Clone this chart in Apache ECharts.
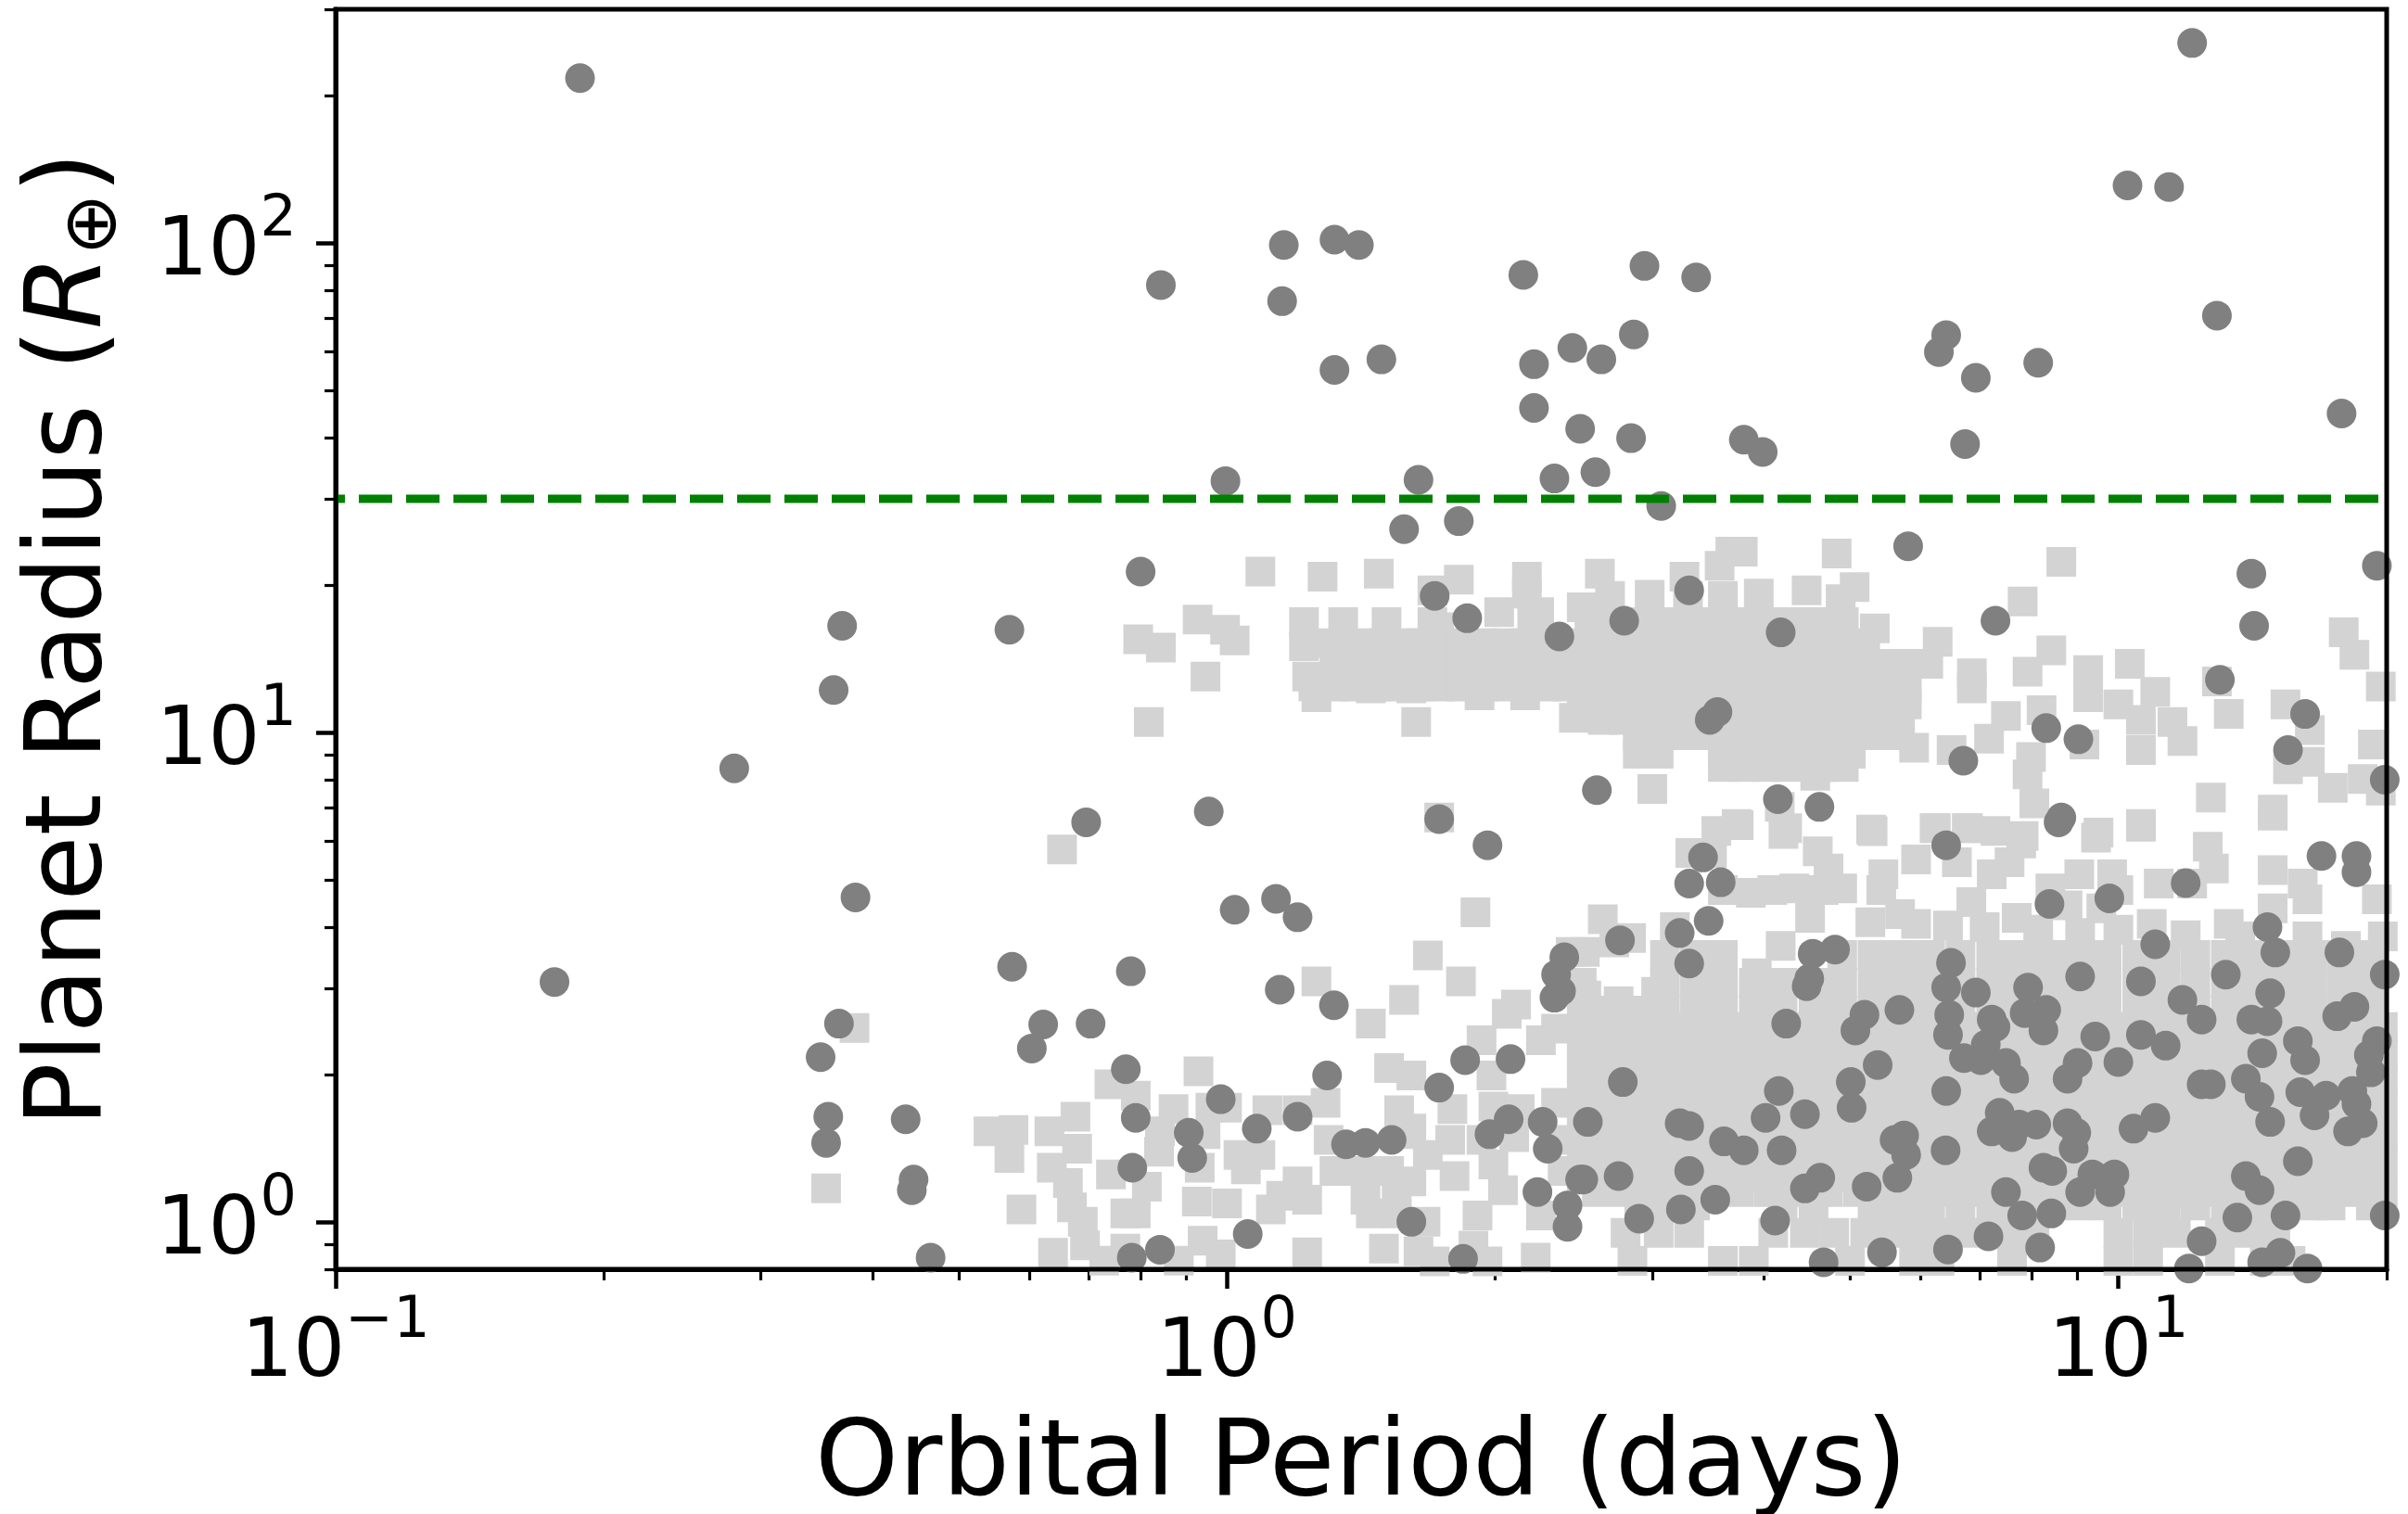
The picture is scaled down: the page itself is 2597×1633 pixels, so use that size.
<!DOCTYPE html>
<html><head><meta charset="utf-8">
<style>html,body{margin:0;padding:0;background:#fff}#c{width:2597px;height:1633px}</style>
<script src="https://cdn.jsdelivr.net/npm/echarts@6/dist/echarts.min.js"></script>
</head><body><div id="c"></div>
<script>
const xMajorTicks=[0.1,1,10];
const xMinorTicks=[0.2,0.3,0.4,0.5,0.6,0.7,0.8,0.9,2,3,4,5,6,7,8,9,20];
const yMajorTicks=[1,10,100];
const yMinorTicks=[0.8,0.9,2,3,4,5,6,7,8,9,20,30,40,50,60,70,80,90,200,300];
const cutoffRadius=30;
const darkPoints=[
[0.188,217],[12.1,256],[10.24,131],[11.4,130],[12.9,71],[17.8,44.8],[1.158,99],[1.32,101.5],[1.406,99],[0.843,82],[1.153,76],[1.32,55],[1.49,57.8],[2.15,86],[2.94,89.7],[3.36,85],[2.86,65],[2.44,61],[2.21,56.5],[2.63,57.8],[2.21,46],[2.49,41.7],[2.84,39.9],[2.59,34],[2.33,33],[3.07,29],[3.8,39.6],[3.99,37.4],[6.41,64.8],[6.29,59.8],[6.92,53],[6.73,38.8],[8.13,56.9],[0.996,32.6],[1.64,32.8],[1.58,26],[1.82,27],[5.81,24],[0.8,21.3],[19.5,21.9],[14.1,21.1],[14.2,16.5],[1.71,19],[1.86,17.1],[2.36,15.7],[2.79,16.9],[3.3,19.5],[4.18,16],[7.28,16.9],[13,12.8],[16.2,10.9],[15.5,9.2],[19.9,8],
[0.37,16.5],[0.57,16.2],[0.362,12.2],[0.28,8.44],[0.695,6.55],[0.954,6.89],[0.383,4.6],[0.176,3.09],[0.574,3.32],[1.73,6.65],[1.96,5.88],[1.02,4.34],[1.135,4.57],[1.2,4.19],[2.6,7.62],[3.48,10.6],[3.55,11],[4.15,7.3],[4.62,7.04],[6.7,8.75],[8.3,10.2],[9.02,9.68],[8.63,6.7],[8.57,6.55],[6.41,5.88],[3.42,5.55],[3.3,4.91],[3.58,4.94],[3.47,4.12],[3.22,3.89],[2.76,3.76],[3.3,3.37],[2.39,3.47],[2.34,3.2],[2.37,2.96],[2.33,2.87],[0.78,3.25],
[1.146,2.98],[1.318,2.77],[0.367,2.54],[0.35,2.17],[0.622,2.53],[0.604,2.26],[0.703,2.54],[0.77,2.05],[1.295,1.99],[1.85,2.14],[2.08,2.15],[1.73,1.88],[0.984,1.78],[0.357,1.64],[0.355,1.45],[0.436,1.62],[0.79,1.63],[0.906,1.52],[0.914,1.35],[1.08,1.55],[1.2,1.64],[1.36,1.44],[1.43,1.45],[1.53,1.47],[1.97,1.51],[2.07,1.62],[2.26,1.6],[2.29,1.41],[0.783,1.29],[0.445,1.22],[0.443,1.16],[1.055,0.944],[0.841,0.877],[0.782,0.845],[0.465,0.845],[1.61,1],[1.84,0.84],[2.23,1.15],[2.41,1.08],[2.41,0.977],[2.49,1.22],[0.212,0.768],[0.26,0.768],
[8.37,4.46],[9.77,4.58],[11.9,4.92],[16.9,5.59],[18.5,5.59],[18.5,5.18],[14.7,4],[15,3.55],[17.7,3.55],[11,3.69],[13.2,3.2],[14.8,2.93],[19.9,3.2],[20.1,2.93],[9.06,3.17],[10.6,3.1],[11.8,2.84],[12.4,2.59],[14.1,2.59],[14.7,2.57],[18.4,2.75],[17.6,2.63],[6.49,3.38],[6.41,3.01],[6.92,2.94],[7.92,3.01],[6.46,2.65],[6.44,2.41],[7.21,2.59],[7.28,2.5],[7.1,2.3],[7.85,2.67],[8.3,2.71],[8.24,2.46],[9.42,2.39],[10.6,2.41],[11.3,2.29],[10,2.12],[9,2.11],[8.77,1.96],[6.71,2.16],[7.01,2.14],[7.48,2.11],[7.64,1.96],[6.41,1.85],[5.37,2.09],[5.01,1.93],[5.02,1.71],[5.68,2.71],[5.19,2.65],[5.07,2.46],[4.24,2.54],[4.81,3.6],[4.54,3.53],[4.5,3.14],[4.47,3.03],[2.78,1.93],[4.16,1.85],[2.54,1.6],[3.22,1.59],[3.3,1.57],[4.02,1.63],[4.45,1.66],[3.61,1.46],[3.8,1.4],[4.19,1.4],[5.61,1.47],[5.75,1.5],[5.78,1.37],[6.4,1.4],[5.65,1.23],[5.22,1.18],[4.63,1.23],[4.45,1.17],[3.3,1.27],[2.75,1.24],[2.51,1.22],[2.9,1.015],[3.23,1.06],[3.53,1.11],[4.12,1.006],[4.67,0.827],[5.43,0.866],[6.44,0.878],[7.15,0.934],[8.17,0.886],[7.48,1.15],[7.8,1.03],[8.41,1.04],[7.36,1.67],[7.21,1.53],[7.6,1.49],[7.74,1.58],[8.09,1.58],[8.77,1.59],[8.97,1.52],[8.91,1.41],[8.24,1.29],[8.43,1.27],[9.35,1.25],[9.9,1.25],[9.06,1.15],[9.79,1.15],[11,1.63],[10.4,1.55],[12.4,1.91],[12.7,1.91],[13.9,1.96],[14.4,1.8],[14.8,1.6],[14.5,2.21],[15.9,2.34],[16.2,2.14],[16,1.84],[17.1,1.81],[16.6,1.65],[18.3,1.85],[18.5,1.74],[18.8,1.59],[18.1,1.53],[15.9,1.33],[13.9,1.24],[14.4,1.16],[13.6,1.02],[15.4,1.03],[12.4,0.913],[15.2,0.864],[14.5,0.827],[12,0.803],[16.3,0.803],[18.6,0.788],[19.9,1.03],[19.5,2.34],[19.1,2.19],[19.2,2.02],[3.22,0.797]
];
const lightPoints=[
[0.653,5.76],[1.9,4.29],[1.68,3.5],[1.83,3.1],[1.26,3.1],[1.58,2.84],[1.45,2.54],[2.43,3.56],[2.11,2.78],[2.06,2.66],[1.93,2.35],[2.25,2.35],[2.34,2.48],[1.52,2.06],[1.61,1.99],[1.98,1.99],[0.929,2.03],[0.738,1.91],[0.79,1.81],[0.382,2.49],[0.355,1.17],[0.588,1.06],[0.54,1.53],[0.576,1.54],[0.57,1.35],[0.632,1.53],[0.676,1.64],[0.679,1.41],[0.636,1.29],[0.663,1.2],[0.67,1.07],[0.689,1],[0.741,1.25],[0.813,1.18],[0.769,1.04],[0.79,1.04],[0.871,1.7],[0.958,1.71],[1,1.71],[1.11,1.69],[1.2,1.69],[0.841,1.53],[0.839,1.39],[0.946,1.51],[0.932,1.29],[0.925,1.1],[1,1.09],[1.03,1.37],[1.09,1.37],[1.05,1.28],[1.12,1.06],[1.15,1.13],[1.2,1.21],[1.23,1.11],[1.29,1.75],[1.3,1.47],[1.32,1.27],[1.42,1.27],[1.52,1.27],[1.61,1.21],[1.43,1.11],[1.55,1.13],[1.45,1.04],[1.67,1],[1.55,1.04],[1.5,0.882],[1.64,0.87],[1.56,1.69],[1.56,1.51],[1.61,1.55],[1.78,1.47],[1.8,1.24],[1.68,1.37],[1.79,1.7],[1.99,1.72],[1.99,1.31],[2.04,1.16],[1.91,1.03],[1.89,0.894],[2.25,1.03],[2.22,0.845],[2.38,1.27],[2.38,1.47],[2.34,1.75],[1.93,1.47],[2.1,1.49],[2.13,1.7],
[0.638,0.864],[0.693,0.895],[0.538,0.79],[0.769,0.882],[0.883,0.833],[0.939,0.915],[0.984,0.858],[1.23,0.866],[0.728,0.833],[1.71,0.83],[1.96,0.83],
[1.28,20.8],[1.48,21.1],[1.82,20.5],[1.7,19.5],[2.17,20.8],[2.17,19.2],[2.62,21.1],[3.26,20.8],[3.67,23.4],[3.79,23.4],[4.83,23.2],[8.63,22.3],[3.57,21.9],[5.06,19.8],[4.88,18.7],[4.47,19.5],[3.95,19.2],[7.81,18.5],[1.22,16.8],[1.35,16.8],[1.51,16.8],[2.5,18],[2.69,19],[2.98,19.1],[2.02,17.6],[1.73,16.4],[2.24,17.6],[5.33,16.3],[6.27,15.3],[8.41,14.7],[10.3,13.8],[9.25,13.4],[7.91,13.3],[6.85,13.2],[6.85,12.3],[9.25,11.8],[10,11.4],[11,12.1],[11.5,10.5],[11.8,9.6],[10.6,10.6],[10.6,9.2],[7.48,10.8],[8.2,11.1],[7.16,9.7],[7.98,8.9],[7.91,8.2],[8.05,7.16],[6.5,9.2],[9.16,9.44],[13.3,10.9],[12.9,12.7],[15.4,11.4],[16.4,10.1],[15.5,8.4],[16.4,8.7],[17.4,7.7],[17.9,16],[18.4,14.4],[19.3,9.44],[18.8,8.03],[19.7,7.6],[19.7,12.4],[12.7,7.36],[14.9,6.95],[10.6,6.5],[3,7.66],[3.73,6.5],[3.54,6.29],[4.17,7.04],[4.25,6.37],[5.28,6.33],[6.24,6.37],[6.78,6.37],[7.28,6.29],[7.83,6.14],[9.5,6.24],[1.63,10.5],[1.26,11.8],[1.45,12.3],[1.61,12.3],[1.92,11.9],[2.16,11.9],[2.45,10.7],[2.55,11.2],[1.73,6.7],
[1.09,21.3],[0.795,15.5],[0.843,14.9],[0.927,17],[0.995,16.2],[1.02,15.4],[0.946,13],[0.817,10.5],[1.22,15],[1.23,13],[3.29,19],[3.6,19],[5.9,9.3],[4.57,8.15],
[3.75,6.46],[4.21,6.2],[5.3,6.28],[6.22,6.37],[6.76,6.37],[7.78,5.93],[6.59,5.43],[5.93,5.5],[5.45,5.13],[6.84,4.5],[7.21,5.13],[7.55,5.43],[5.69,4.25],[5.42,4.76],[4.6,5.71],[4.73,5.27],[4.9,4.8],[4.67,4.76],[4.33,4.8],[4.09,4.76],[3.5,5.67],[3.31,5.67],[3.6,4.76],[3.87,4.7],[9.44,6.09],[10.6,6.41],[12.6,5.84],[12.8,5.27],[14.9,5.23],[14.9,6.76],[16.1,4.91],[9.04,5.13],[8.39,4.8],[8.77,4.43],[9.84,5.13],[10,4.76],[9.57,4.37],[11.1,4.91],[12.1,4.91],[14.9,4.37],[13.3,4.06],[16.3,4.56],[19.5,4.56],[19.8,3.83],[2.64,4.15],[2.84,3.8],[2.52,3.56],[2.72,3.72],[3.18,4],[2.75,2.82],[2.53,2.9],[3.03,2.95],[3.6,2.95],[4.18,3.66],[3.93,3.22],[4.51,4.18],[5.27,4.09],[5.93,4.06],[6.44,4.03],[7.08,4],[7.69,4.18],[8.13,3.95],[9.06,3.89],[10,3.95],[10.9,4.06],[11.9,3.85],[13.7,3.83],[16.3,3.83],[18,3.66]
];
const bandRadius=[16.8,15.2,13.8,12.4,11.4,10.6,9.86,9.04,8.5];
const bandPeriods=[
[1.7,2.2,2.55,2.7,2.84,3,3.17,3.35,3.54,3.74,3.95,4.17,4.41,4.66,4.92],
[1.27,1.35,1.42,1.5,1.58,1.65,1.73,1.83,1.94,2.05,2.16,2.28,2.41,2.55,2.69,2.84,3,3.17,3.35,3.54,3.74,3.95,4.17,4.41,4.66,4.92,5.2],
[1.32,1.39,1.47,1.55,1.64,1.73,1.83,1.94,2.04,2.16,2.28,2.41,2.55,2.69,2.84,3,3.17,3.35,3.54,3.74,3.95,4.17,4.41,4.66,4.92,5.2,5.48,5.79,6.12],
[1.25,1.32,1.39,1.47,1.55,1.64,1.73,1.83,1.94,2.04,2.16,2.28,2.41,2.55,2.69,2.84,3,3.17,3.35,3.54,3.74,3.95,4.17,4.41,4.66,4.92,5.2,5.48,5.79],
[2.5,2.64,2.79,2.94,3.11,3.29,3.48,3.67,3.87,4.09,4.33,4.57,4.83,5.09,5.38,5.79],
[2.64,2.79,2.94,3.11,3.29,3.48,3.67,3.87,4.09,4.33,4.57,4.83,5.09,5.38,5.69],
[2.89,3.05,3.23,3.41,3.6,3.8,4.02,4.25,4.49,4.74,5.01,5.29,5.58],
[2.89,3.05,3.6,3.8,4.02,4.25,4.49,4.74,5.01],
[3.6,3.8,4.02,4.25,4.66,4.92]
];
const denseRadius=[3.51,3.08,2.7,2.37,2.08,1.83,1.6,1.41,1.23,1.08,0.949,0.832];
const densePeriods=[
[3.1,3.35,3.6,4.9,5.3,5.7,6.15,6.65,7.2,7.75,8.35,9,9.7,10.5,11.3,12.2,13.2,14.2,15.3,16.5,17.8,19.2],
[2.5,3.1,3.35,3.6,3.9,4.2,4.55,4.9,5.3,5.7,6.15,6.65,7.2,7.75,8.35,9,9.7,10.5,11.3,12.2,13.2,14.2,15.3,16.5,17.8,19.2],
[2.5,2.7,2.9,3.1,3.35,3.6,3.9,4.2,4.55,4.9,5.3,5.7,6.15,6.65,7.2,7.75,8.35,9,9.7,10.5,11.3,12.2,13.2,14.2,15.3,16.5,17.8,19.2],
[2.5,2.7,2.9,3.1,3.35,3.6,3.9,4.2,4.55,4.9,5.3,5.7,6.15,6.65,7.2,7.75,8.35,9,9.7,10.5,11.3,12.2,13.2,14.2,15.3,16.5,17.8,19.2],
[2.5,2.7,2.9,3.1,3.35,3.6,3.9,4.2,4.55,4.9,5.3,5.7,6.15,6.65,7.2,7.75,8.35,9,9.7,10.5,11.3,12.2,13.2,14.2,15.3,16.5,17.8,19.2],
[2.5,2.7,2.9,3.1,3.35,3.6,3.9,4.2,4.55,4.9,5.3,5.7,6.15,6.65,7.2,7.75,8.35,9,9.7,10.5,11.3,12.2,13.2,14.2,15.3,16.5,17.8,19.2],
[2.5,2.7,2.9,3.1,3.35,3.6,3.9,4.2,4.55,4.9,5.3,5.7,6.15,6.65,7.2,7.75,8.35,9,9.7,10.5,11.3,12.2,13.2,14.2,15.3,16.5,17.8,19.2],
[2.5,2.7,2.9,3.1,3.35,3.6,3.9,4.2,4.55,4.9,5.3,5.7,6.15,6.65,7.2,7.75,8.35,9,9.7,10.5,11.3,12.2,13.2,14.2,15.3,16.5,17.8,19.2],
[2.5,2.7,2.9,3.1,3.35,3.6,3.9,4.2,4.55,4.9,5.3,5.7,6.15,6.65,7.2,7.75,8.35,9,9.7,10.5,11.3,12.2,13.2,14.2,15.3,16.5,17.8,19.2],
[2.9,3.1,3.35,4.2,4.55,5.3,5.7,6.15,6.65,7.2,7.75,8.35,9,9.7,10.5,11.3,12.2,13.2,14.2,15.3,16.5,17.3,19.2],
[2.8,3.05,3.3,4.1,4.45,4.8,5.2,5.6,6,6.45,6.95,7.5,8.05,10,10.8,11.6,13,14,15],
[2.85,3.6,3.9,5,5.9,6.3,7.6,10,10.8,13,14.6,15.6]
];
const fillRadius=[2.5,2.2,1.95,1.72,1.5,1.32,1.15];
const fillPeriods=[2.6,2.8,3,3.22,3.47,3.75,4.05,4.37,4.72,5.1,5.5,5.92,6.4,6.9,7.45,8.05,8.65,9.35,10.1,10.9,11.75,12.7,13.7,14.75,15.9,17.1,18.5,19.8];
const titleX='Orbital Period (days)';
const titleYParts=['Planet Radius (','R','⊕',')'];

const lightAll=lightPoints.slice();
bandPeriods.forEach((row,i)=>row.forEach(p=>lightAll.push([p,bandRadius[i]])));
densePeriods.forEach((row,i)=>row.forEach(p=>lightAll.push([p,denseRadius[i]])));
fillRadius.forEach(r=>fillPeriods.forEach(p=>lightAll.push([p,r])));

const FONT='DejaVu Sans';
const powerLabel=v=>{const e=Math.round(Math.log10(v));return '{b|10}{s|'+(e<0?'\u2212':'')+Math.abs(e)+'}';};
const labelRich={
 b:{fontFamily:FONT,fontSize:88,color:'#000',lineHeight:110,verticalAlign:'bottom'},
 s:{fontFamily:FONT,fontSize:62,color:'#000',lineHeight:110,verticalAlign:'top'}
};
const minorAxis=(customTicks,extra)=>Object.assign({
 type:'log',logBase:10,gridIndex:0,axisLine:{show:false},splitLine:{show:false},minorTick:{show:false},
 axisLabel:{show:false},axisTick:{show:true,customValues:customTicks,length:12,lineStyle:{color:'#000',width:3.2}}
},extra);
const chart=echarts.init(document.getElementById('c'),null,{renderer:'canvas'});
chart.setOption({
 animation:false,backgroundColor:'#fff',
 grid:{left:362,top:10,width:2212,height:1359,show:true,borderColor:'#000',borderWidth:5,backgroundColor:'transparent',containLabel:false,outerBoundsMode:'none',z:5},
 xAxis:[{type:'log',logBase:10,min:0.1,max:20,position:'bottom',
   name:titleX,nameLocation:'middle',nameGap:156,nameTextStyle:{fontFamily:FONT,fontSize:114.5,color:'#000'},
   splitLine:{show:false},minorTick:{show:false},
   axisLine:{show:true,lineStyle:{color:'#000',width:5}},
   axisTick:{show:true,customValues:xMajorTicks,length:21,lineStyle:{color:'#000',width:4.5}},
   axisLabel:{show:true,customValues:xMajorTicks,margin:26,formatter:powerLabel,rich:labelRich,hideOverlap:false}},
  minorAxis(xMinorTicks,{min:0.1,max:20,position:'bottom'})],
 yAxis:[{type:'log',logBase:10,min:0.8,max:300,position:'left',
   name:'{p|'+titleYParts[0]+'}{i|'+titleYParts[1]+'}{o|'+titleYParts[2]+'}{p|'+titleYParts[3]+'}',
   nameLocation:'middle',nameGap:219,nameRotate:90,
   nameTextStyle:{rich:{p:{fontFamily:FONT,fontSize:114.5,color:'#000',lineHeight:130},i:{fontFamily:FONT,fontStyle:'italic',fontSize:114.5,color:'#000',lineHeight:130},o:{fontFamily:FONT,fontSize:80,color:'#000',lineHeight:130,verticalAlign:'bottom'}}},
   splitLine:{show:false},minorTick:{show:false},
   axisLine:{show:true,lineStyle:{color:'#000',width:5}},
   axisTick:{show:true,customValues:yMajorTicks,length:21,lineStyle:{color:'#000',width:4.5}},
   axisLabel:{show:true,customValues:yMajorTicks,margin:42,formatter:powerLabel,rich:labelRich,hideOverlap:false}},
  minorAxis(yMinorTicks,{min:0.8,max:300,position:'left'})],
 series:[
  {type:'scatter',name:'light',xAxisIndex:0,yAxisIndex:0,symbol:'rect',symbolSize:32,z:2,clip:true,silent:true,large:false,itemStyle:{color:'#d3d3d3',opacity:1},data:lightAll},
  {type:'scatter',name:'dark',xAxisIndex:0,yAxisIndex:0,symbol:'circle',symbolSize:32,z:3,clip:true,silent:true,itemStyle:{color:'#808080',opacity:1},data:darkPoints},
  {type:'line',name:'cutoff',xAxisIndex:0,yAxisIndex:0,z:4,symbol:'none',silent:true,clip:true,lineStyle:{color:'#008000',width:9,type:[36,15],dashOffset:26,cap:'butt'},data:[[0.1,cutoffRadius],[20,cutoffRadius]]}
 ]
});
</script></body></html>
